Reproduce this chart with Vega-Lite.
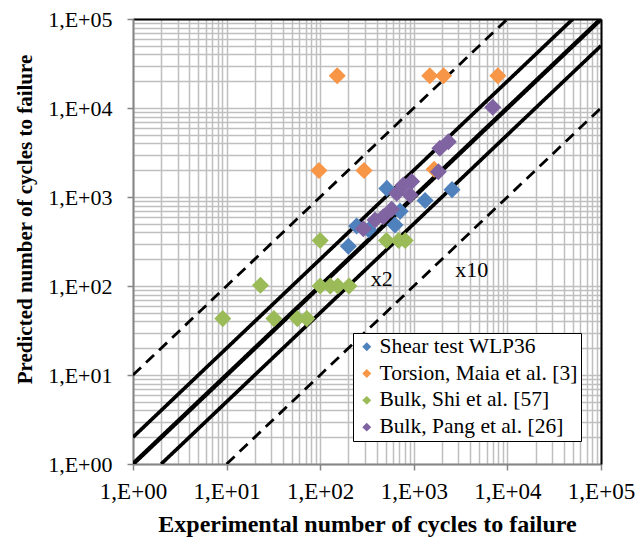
{
  "$schema": "https://vega.github.io/schema/vega-lite/v6.json",
  "width": 468,
  "height": 445,
  "autosize": {"type": "none"},
  "padding": {"left": 133, "top": 19, "right": 34, "bottom": 78},
  "background": "white",
  "config": {"view": {"stroke": null}, "font": "Liberation Serif"},
  "datasets": {
    "refs": [
      {"id": "a", "kind": "1:1", "x": 1, "y": 1},
      {"id": "a", "kind": "1:1", "x": 100000, "y": 100000},
      {"id": "b", "kind": "x2", "x": 1, "y": 2},
      {"id": "b", "kind": "x2", "x": 50000, "y": 100000},
      {"id": "c", "kind": "x2", "x": 2, "y": 1},
      {"id": "c", "kind": "x2", "x": 100000, "y": 50000},
      {"id": "d", "kind": "x10", "x": 1, "y": 10},
      {"id": "d", "kind": "x10", "x": 10000, "y": 100000},
      {"id": "e", "kind": "x10", "x": 10, "y": 1},
      {"id": "e", "kind": "x10", "x": 100000, "y": 10000}
    ],
    "pts": [
      {"series": "Shear test WLP36", "x": 200, "y": 280},
      {"series": "Shear test WLP36", "x": 245, "y": 472},
      {"series": "Shear test WLP36", "x": 330, "y": 428},
      {"series": "Shear test WLP36", "x": 630, "y": 484},
      {"series": "Shear test WLP36", "x": 715, "y": 690},
      {"series": "Shear test WLP36", "x": 515, "y": 1250},
      {"series": "Shear test WLP36", "x": 1320, "y": 915},
      {"series": "Shear test WLP36", "x": 2560, "y": 1210},
      {"series": "Torsion, Maia et al. [3]", "x": 152, "y": 23000},
      {"series": "Torsion, Maia et al. [3]", "x": 1480, "y": 23000},
      {"series": "Torsion, Maia et al. [3]", "x": 2080, "y": 23000},
      {"series": "Torsion, Maia et al. [3]", "x": 7900, "y": 23000},
      {"series": "Torsion, Maia et al. [3]", "x": 97, "y": 1980},
      {"series": "Torsion, Maia et al. [3]", "x": 294, "y": 1980},
      {"series": "Torsion, Maia et al. [3]", "x": 1650, "y": 2050},
      {"series": "Bulk, Shi et al. [57]", "x": 9.1, "y": 43},
      {"series": "Bulk, Shi et al. [57]", "x": 32, "y": 43},
      {"series": "Bulk, Shi et al. [57]", "x": 57, "y": 43},
      {"series": "Bulk, Shi et al. [57]", "x": 72, "y": 43},
      {"series": "Bulk, Shi et al. [57]", "x": 23, "y": 102},
      {"series": "Bulk, Shi et al. [57]", "x": 100, "y": 100},
      {"series": "Bulk, Shi et al. [57]", "x": 128, "y": 100},
      {"series": "Bulk, Shi et al. [57]", "x": 154, "y": 100},
      {"series": "Bulk, Shi et al. [57]", "x": 203, "y": 100},
      {"series": "Bulk, Shi et al. [57]", "x": 100, "y": 325},
      {"series": "Bulk, Shi et al. [57]", "x": 510, "y": 325},
      {"series": "Bulk, Shi et al. [57]", "x": 690, "y": 325},
      {"series": "Bulk, Shi et al. [57]", "x": 810, "y": 325},
      {"series": "Bulk, Pang et al. [26]", "x": 6970, "y": 10180},
      {"series": "Bulk, Pang et al. [26]", "x": 2340, "y": 4180},
      {"series": "Bulk, Pang et al. [26]", "x": 1900, "y": 3520},
      {"series": "Bulk, Pang et al. [26]", "x": 1830, "y": 1925},
      {"series": "Bulk, Pang et al. [26]", "x": 949, "y": 1490},
      {"series": "Bulk, Pang et al. [26]", "x": 773, "y": 1364},
      {"series": "Bulk, Pang et al. [26]", "x": 656, "y": 1100},
      {"series": "Bulk, Pang et al. [26]", "x": 912, "y": 1052},
      {"series": "Bulk, Pang et al. [26]", "x": 580, "y": 730},
      {"series": "Bulk, Pang et al. [26]", "x": 472, "y": 601},
      {"series": "Bulk, Pang et al. [26]", "x": 385, "y": 552},
      {"series": "Bulk, Pang et al. [26]", "x": 289, "y": 440}
    ],
    "notes": [
      {"label": "x2", "x": 454, "y": 120},
      {"label": "x10", "x": 4155, "y": 151}
    ]
  },
  "layer": [
    {
      "data": {"name": "refs"},
      "mark": {"type": "line", "clip": true, "strokeCap": "butt", "color": "black"},
      "encoding": {
        "x": {
          "field": "x", "type": "quantitative",
          "scale": {"type": "log", "domain": [1, 100000], "nice": false},
          "axis": {
            "orient": "top", "title": null, "labels": false, "ticks": false,
            "grid": true, "gridColor": "#BFBFBF", "gridWidth": 1.5,
            "domainColor": "black", "domainWidth": 2,
            "values": [1,2,3,4,5,6,7,8,9,10,20,30,40,50,60,70,80,90,100,200,300,400,500,600,700,800,900,1000,2000,3000,4000,5000,6000,7000,8000,9000,10000,20000,30000,40000,50000,60000,70000,80000,90000,100000]
          }
        },
        "y": {
          "field": "y", "type": "quantitative",
          "scale": {"type": "log", "domain": [1, 100000], "nice": false},
          "axis": {
            "orient": "right", "title": null, "labels": false, "ticks": false,
            "grid": true, "gridColor": "#BFBFBF", "gridWidth": 1.5,
            "domainColor": "black", "domainWidth": 2,
            "values": [1,2,3,4,5,6,7,8,9,10,20,30,40,50,60,70,80,90,100,200,300,400,500,600,700,800,900,1000,2000,3000,4000,5000,6000,7000,8000,9000,10000,20000,30000,40000,50000,60000,70000,80000,90000,100000]
          }
        },
        "detail": {"field": "id", "type": "nominal"},
        "strokeWidth": {"field": "kind", "type": "nominal", "scale": {"domain": ["1:1", "x2", "x10"], "range": [4.5, 2.8, 3.5]}, "legend": null},
        "strokeDash": {"field": "kind", "type": "nominal", "scale": {"domain": ["1:1", "x2", "x10"], "range": [[1, 0], [1, 0], [11, 7]]}, "legend": null}
      }
    },
    {
      "data": {"name": "pts"},
      "mark": {"type": "point", "shape": "diamond", "filled": true, "size": 290, "opacity": 1, "strokeWidth": 0},
      "encoding": {
        "x": {
          "field": "x", "type": "quantitative",
          "scale": {"type": "log", "domain": [1, 100000], "nice": false},
          "axis": {
            "orient": "bottom", "grid": false,
            "values": [1, 10, 100, 1000, 10000, 100000],
            "labelExpr": "'1,E+0' + format(log(datum.value)/LN10, '.0f')",
            "labelFlush": false, "labelOverlap": false, "labelBound": false,
            "labelFont": "Liberation Serif", "labelFontSize": 23, "labelColor": "black", "labelPadding": 10,
            "tickSize": 6, "tickColor": "#868686", "tickWidth": 1.5,
            "domainColor": "#868686", "domainWidth": 2,
            "title": "Experimental number of cycles to failure",
            "titleFont": "Liberation Serif", "titleFontSize": 24, "titleFontWeight": "bold", "titleColor": "black", "titlePadding": 9
          }
        },
        "y": {
          "field": "y", "type": "quantitative",
          "scale": {"type": "log", "domain": [1, 100000], "nice": false},
          "axis": {
            "orient": "left", "grid": false,
            "values": [1, 10, 100, 1000, 10000, 100000],
            "labelExpr": "'1,E+0' + format(log(datum.value)/LN10, '.0f')",
            "labelFlush": false, "labelOverlap": false, "labelBound": false,
            "labelFont": "Liberation Serif", "labelFontSize": 22, "labelColor": "black", "labelPadding": 15,
            "tickSize": 6, "tickColor": "#868686", "tickWidth": 1.5,
            "domainColor": "#868686", "domainWidth": 2,
            "title": "Predicted number of cycles to failure",
            "titleFont": "Liberation Serif", "titleFontSize": 21, "titleFontWeight": "bold", "titleColor": "black", "titlePadding": 12,
            "titleY": 200
          }
        },
        "color": {
          "field": "series", "type": "nominal",
          "scale": {
            "domain": ["Shear test WLP36", "Torsion, Maia et al. [3]", "Bulk, Shi et al. [57]", "Bulk, Pang et al. [26]"],
            "range": ["#4F81BD", "#F79646", "#9BBB59", "#8064A2"]
          },
          "legend": {
            "title": null, "orient": "none", "legendX": 220, "legendY": 314,
            "direction": "vertical",
            "symbolType": "diamond", "symbolSize": 80, "symbolStrokeWidth": 0, "symbolOffset": 0,
            "labelFont": "Liberation Serif", "labelFontSize": 21.5, "labelColor": "black", "labelOffset": 2, "labelLimit": 400,
            "rowPadding": 3.8, "padding": 3,
            "strokeColor": "black", "fillColor": "white",
            "encode": {"legend": {"update": {"strokeWidth": {"value": 2}}}}
          }
        }
      }
    },
    {
      "data": {"name": "notes"},
      "mark": {"type": "text", "font": "Liberation Serif", "fontSize": 22, "color": "black", "align": "center", "baseline": "middle"},
      "encoding": {
        "x": {"field": "x", "type": "quantitative", "scale": {"type": "log", "domain": [1, 100000], "nice": false}, "axis": null},
        "y": {"field": "y", "type": "quantitative", "scale": {"type": "log", "domain": [1, 100000], "nice": false}, "axis": null},
        "text": {"field": "label", "type": "nominal"}
      }
    }
  ],
  "resolve": {"axis": {"x": "independent", "y": "independent"}}
}
